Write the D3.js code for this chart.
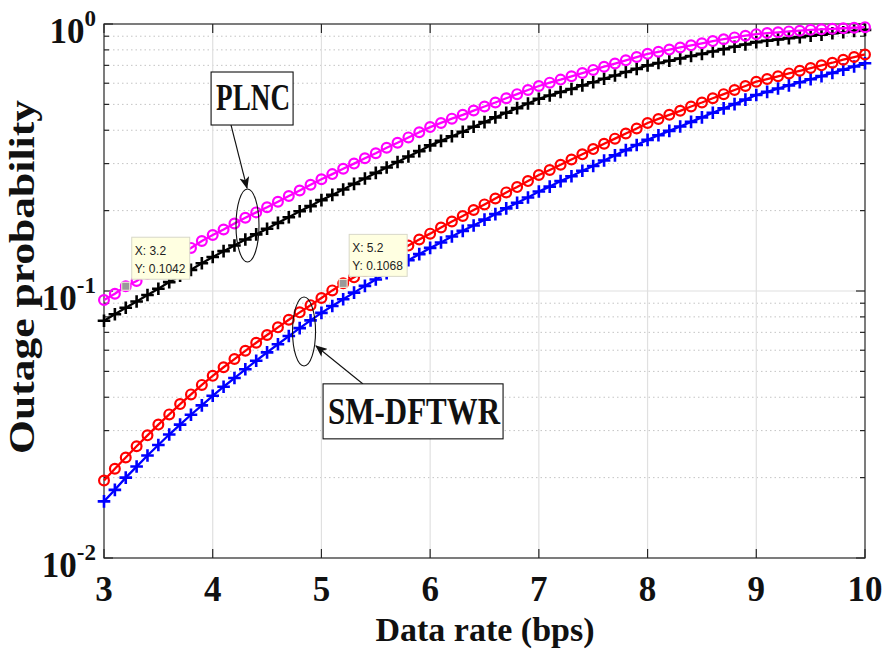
<!DOCTYPE html>
<html>
<head>
<meta charset="utf-8">
<script src="https://cdn.jsdelivr.net/npm/d3@7"></script>
<style>
body { margin: 0; background: #fff; }
svg text { font-family: "Liberation Serif", "Times New Roman", serif; font-weight: bold; fill: #111; }
svg text.tip { font-family: "Liberation Sans", Arial, sans-serif; font-weight: normal; font-size: 12px; fill: #222; }
</style>
</head>
<body>
<div id="chart"></div>
<script>
// data rate (bps), one marker every 0.1
const rate = [3.0,3.1,3.2,3.3,3.4,3.5,3.6,3.7,3.8,3.9,
    4.0,4.1,4.2,4.3,4.4,4.5,4.6,4.7,4.8,4.9,
    5.0,5.1,5.2,5.3,5.4,5.5,5.6,5.7,5.8,5.9,
    6.0,6.1,6.2,6.3,6.4,6.5,6.6,6.7,6.8,6.9,
    7.0,7.1,7.2,7.3,7.4,7.5,7.6,7.7,7.8,7.9,
    8.0,8.1,8.2,8.3,8.4,8.5,8.6,8.7,8.8,8.9,
    9.0,9.1,9.2,9.3,9.4,9.5,9.6,9.7,9.8,9.9,10.0];

// PLNC, magenta circles
const plncCircle = [0.0925,0.0977,0.1042,0.109,0.116,0.123,0.129,0.137,0.145,0.154,
    0.162,0.170,0.179,0.188,0.197,0.206,0.216,0.227,0.238,0.250,
    0.262,0.274,0.287,0.300,0.314,0.328,0.344,0.359,0.376,0.393,
    0.411,0.426,0.442,0.457,0.474,0.491,0.508,0.527,0.546,0.566,
    0.586,0.603,0.619,0.637,0.655,0.673,0.692,0.711,0.731,0.752,
    0.773,0.787,0.802,0.817,0.832,0.847,0.863,0.877,0.891,0.904,
    0.916,0.925,0.931,0.938,0.944,0.951,0.955,0.959,0.964,0.968,0.973];

// PLNC, black plus
const plncPlus = [0.0774,0.0818,0.0865,0.0914,0.0966,0.102,0.108,0.114,0.120,0.127,
    0.134,0.141,0.148,0.156,0.163,0.171,0.180,0.189,0.199,0.208,
    0.219,0.229,0.240,0.252,0.264,0.277,0.290,0.304,0.319,0.334,
    0.351,0.365,0.380,0.395,0.412,0.429,0.447,0.465,0.484,0.504,
    0.525,0.540,0.556,0.571,0.589,0.605,0.624,0.641,0.661,0.679,
    0.700,0.714,0.728,0.743,0.759,0.773,0.789,0.805,0.822,0.838,
    0.855,0.865,0.875,0.885,0.893,0.904,0.912,0.923,0.931,0.942,0.951];

// SM-DFTWR, red circles
const smCircle = [0.0195,0.0216,0.0238,0.0262,0.0288,0.0316,0.0345,0.0377,0.0410,0.0445,
    0.0481,0.0518,0.0556,0.0597,0.0640,0.0684,0.0731,0.0780,0.0832,0.0885,
    0.0942,0.1005,0.1068,0.1125,0.1189,0.1256,0.1327,0.1403,0.1479,0.1560,
    0.164,0.173,0.182,0.191,0.201,0.211,0.222,0.234,0.245,0.258,
    0.272,0.284,0.297,0.311,0.325,0.340,0.356,0.372,0.389,0.406,
    0.426,0.441,0.457,0.473,0.491,0.508,0.527,0.546,0.566,0.586,
    0.608,0.622,0.637,0.653,0.668,0.684,0.700,0.716,0.735,0.752,0.769];

// SM-DFTWR, blue plus
const smPlus = [0.0163,0.0180,0.0200,0.0220,0.0242,0.0265,0.0290,0.0316,0.0344,0.0373,
    0.0405,0.0438,0.0472,0.0509,0.0548,0.0589,0.0632,0.0678,0.0726,0.0776,
    0.0828,0.0879,0.0931,0.0986,0.1045,0.1104,0.1167,0.1233,0.1303,0.1374,
    0.145,0.152,0.160,0.168,0.176,0.185,0.194,0.204,0.214,0.224,
    0.236,0.246,0.258,0.269,0.282,0.294,0.308,0.322,0.337,0.352,
    0.368,0.383,0.398,0.413,0.430,0.447,0.465,0.483,0.501,0.521,
    0.542,0.557,0.573,0.589,0.605,0.621,0.638,0.656,0.675,0.693,0.713];

// data tips
const tipX = [3.2, 5.2];
const tipY = [0.1042, 0.1068];

const xTicks = [3, 4, 5, 6, 7, 8, 9, 10];
const yMajor = [0.01, 0.1, 1];
const yMajorExp = ["-2", "-1", "0"];
const yMinor = [0.02,0.03,0.04,0.05,0.06,0.07,0.08,0.09,0.2,0.3,0.4,0.5,0.6,0.7,0.8,0.9];

const W = 883, H = 657;
const svg = d3.select("#chart").append("svg")
    .attr("width", W)
    .attr("height", H);

const x = d3.scaleLinear().domain([3, 10]).range([104, 865]);
const y = d3.scaleLog().domain([0.01, 1]).range([558, 24]);

// grid
svg.append("g").selectAll("line").data(yMinor).join("line")
    .attr("x1", 104).attr("x2", 865)
    .attr("y1", d => y(d)).attr("y2", d => y(d))
    .attr("stroke", "#c4c4c4").attr("stroke-width", 1)
    .attr("stroke-dasharray", "1.5,3");
svg.append("g").selectAll("line").data([0.1]).join("line")
    .attr("x1", 104).attr("x2", 865)
    .attr("y1", d => y(d)).attr("y2", d => y(d))
    .attr("stroke", "#e0e0e0").attr("stroke-width", 1.2);
svg.append("g").selectAll("line").data(xTicks.slice(1, -1)).join("line")
    .attr("x1", d => x(d)).attr("x2", d => x(d))
    .attr("y1", 24).attr("y2", 558)
    .attr("stroke", "#e0e0e0").attr("stroke-width", 1.2);

// box and ticks
const axisCol = "#262626";
svg.append("rect")
    .attr("x", 104).attr("y", 24)
    .attr("width", 865 - 104).attr("height", 558 - 24)
    .attr("fill", "none").attr("stroke", axisCol).attr("stroke-width", 1.2);

const tk = svg.append("g").attr("stroke", axisCol).attr("stroke-width", 1.2);
xTicks.forEach(t => {
    tk.append("line").attr("x1", x(t)).attr("x2", x(t)).attr("y1", 558).attr("y2", 549);
    tk.append("line").attr("x1", x(t)).attr("x2", x(t)).attr("y1", 24).attr("y2", 33);
});
yMajor.forEach(t => {
    tk.append("line").attr("x1", 104).attr("x2", 113).attr("y1", y(t)).attr("y2", y(t));
    tk.append("line").attr("x1", 865).attr("x2", 856).attr("y1", y(t)).attr("y2", y(t));
});
yMinor.forEach(t => {
    tk.append("line").attr("x1", 104).attr("x2", 109).attr("y1", y(t)).attr("y2", y(t));
    tk.append("line").attr("x1", 865).attr("x2", 860).attr("y1", y(t)).attr("y2", y(t));
});

// tick labels
svg.append("g").selectAll("text").data(xTicks).join("text")
    .attr("x", d => x(d)).attr("y", 601)
    .attr("text-anchor", "middle")
    .attr("font-size", 35)
    .text(d => d);

yMajor.forEach((t, i) => {
    const lab = svg.append("text")
        .attr("x", 96).attr("y", y(t) + 19)
        .attr("text-anchor", "end")
        .attr("font-size", 35);
    lab.append("tspan").text("10");
    lab.append("tspan").attr("dy", -17).attr("font-size", 23).text(yMajorExp[i]);
});

// axis titles
svg.append("text")
    .attr("x", 485).attr("y", 641)
    .attr("text-anchor", "middle")
    .attr("font-size", 34)
    .text("Data rate (bps)");
svg.append("text")
    .attr("transform", "translate(34,277) rotate(-90)")
    .attr("text-anchor", "middle")
    .attr("font-size", 35)
    .attr("textLength", 354)
    .attr("lengthAdjust", "spacingAndGlyphs")
    .text("Outage probability");

// curves
const line = d3.line()
    .x((d, i) => x(rate[i]))
    .y(d => y(d));

const series = [
    { values: plncPlus, color: "#000000", marker: "plus" },
    { values: plncCircle, color: "#ff00ff", marker: "circle" },
    { values: smPlus, color: "#0000ff", marker: "plus" },
    { values: smCircle, color: "#ff0000", marker: "circle" }
];

series.forEach(s => {
    svg.append("path")
        .datum(s.values)
        .attr("d", line)
        .attr("fill", "none")
        .attr("stroke", s.color)
        .attr("stroke-width", 2.3);
    const g = svg.append("g");
    if (s.marker === "circle") {
        g.selectAll("circle").data(s.values).join("circle")
            .attr("cx", (d, i) => x(rate[i]))
            .attr("cy", d => y(d))
            .attr("r", 4.9)
            .attr("fill", "none")
            .attr("stroke", s.color)
            .attr("stroke-width", 2.2);
    } else {
        g.selectAll("path").data(s.values).join("path")
            .attr("d", (d, i) => {
                const cx = x(rate[i]), cy = y(d);
                return `M${cx - 6.3},${cy}H${cx + 6.3}M${cx},${cy - 6.3}V${cy + 6.3}`;
            })
            .attr("stroke", s.color)
            .attr("stroke-width", 2.6);
    }
});

// annotations: ellipse round each pair, arrow to a boxed label
svg.append("defs").append("marker")
    .attr("id", "arrow")
    .attr("viewBox", "0 0 12 10")
    .attr("refX", 11).attr("refY", 5)
    .attr("markerWidth", 12).attr("markerHeight", 10)
    .attr("markerUnits", "userSpaceOnUse")
    .attr("orient", "auto")
    .append("path")
    .attr("d", "M0,0L12,5L0,10L3,5Z")
    .attr("fill", "#111");

const notes = [
    { label: "PLNC", ex: 4.32, ey: 0.176, rx: 11.5, ry: 36.5, bx: 3.985, by: 0.661, bw: 82, bh: 53, ax: 231, ay: 125, tx: 247, ty: 188 },
    { label: "SM-DFTWR", ex: 4.84, ey: 0.0705, rx: 11.5, ry: 34.5, bx: 5.015, by: 0.0449, bw: 180, bh: 55, ax: 363, ay: 384, tx: 316, ty: 346 }
];

notes.forEach(n => {
    svg.append("ellipse")
        .attr("cx", x(n.ex)).attr("cy", y(n.ey))
        .attr("rx", n.rx).attr("ry", n.ry)
        .attr("fill", "none").attr("stroke", "#111").attr("stroke-width", 1.1);
    svg.append("line")
        .attr("x1", n.ax).attr("y1", n.ay)
        .attr("x2", n.tx).attr("y2", n.ty)
        .attr("stroke", "#111").attr("stroke-width", 1.1)
        .attr("marker-end", "url(#arrow)");
    const bx = x(n.bx), by = y(n.by);
    svg.append("rect")
        .attr("x", bx).attr("y", by)
        .attr("width", n.bw).attr("height", n.bh)
        .attr("fill", "#fff").attr("stroke", "#111").attr("stroke-width", 1.1);
    svg.append("text")
        .attr("x", bx + 5).attr("y", by + n.bh - 15)
        .attr("font-size", 37)
        .attr("textLength", n.bw - 8)
        .attr("lengthAdjust", "spacingAndGlyphs")
        .text(n.label);
});

// data tips
tipX.forEach((tx, i) => {
    const px = x(tx), py = y(tipY[i]);
    svg.append("rect")
        .attr("x", px - 4).attr("y", py - 4)
        .attr("width", 8).attr("height", 8)
        .attr("fill", "#999").attr("stroke", "#f4f4dc").attr("stroke-width", 1);
    svg.append("rect")
        .attr("x", px + 6).attr("y", py - 49)
        .attr("width", 58).attr("height", 42)
        .attr("fill", "#ffffe1").attr("stroke", "#d8d8c8").attr("stroke-width", 1);
    svg.append("text").attr("class", "tip")
        .attr("x", px + 9).attr("y", py - 31)
        .text("X: " + tx);
    svg.append("text").attr("class", "tip")
        .attr("x", px + 9).attr("y", py - 13)
        .text("Y: " + tipY[i]);
});
</script>
</body>
</html>
